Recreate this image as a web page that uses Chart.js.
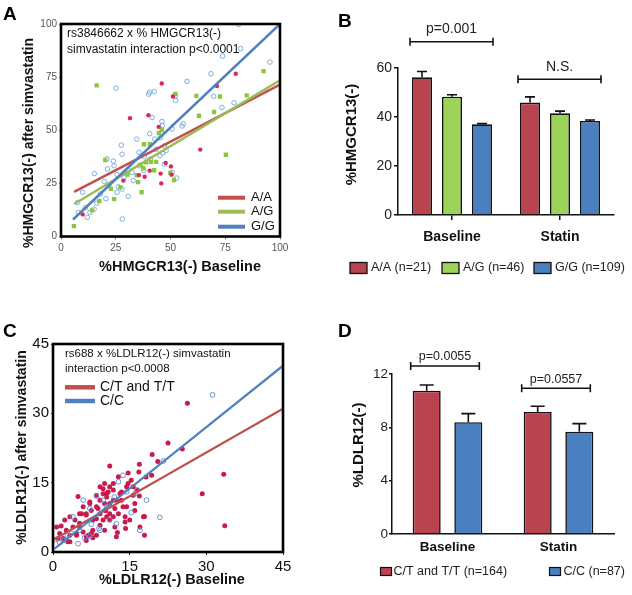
<!DOCTYPE html>
<html>
<head>
<meta charset="utf-8">
<script src="https://cdn.jsdelivr.net/npm/chart.js@4.4.1/dist/chart.umd.min.js"></script>
<style>
html,body{margin:0;padding:0;background:#fff;}
#wrap{position:relative;width:632px;height:595px;overflow:hidden;}
#wrap canvas{position:absolute;left:0;top:0;}
</style>
</head>
<body>
<div id="wrap">
<canvas id="cA" width="632" height="595"></canvas>
<canvas id="cB" width="632" height="595"></canvas>
<canvas id="cC" width="632" height="595"></canvas>
<canvas id="cD" width="632" height="595"></canvas>
</div>
<script>
// ---------------- Panel A: scatter, %HMGCR13(-) ----------------
const hmgGenotypes = ['A/A', 'A/G', 'G/G'];
const hmgAA_x = [79.8,71.2,46,51.1,31.5,39.9,44.6,63.6,47.8,50.2,35.6,38.2,40.5,45.5,28.5,45.8,9.9,50.5];
const hmgAA_y = [76.6,70.8,72,65.9,55.7,57.1,51.6,40.9,34.6,33,28.9,28.1,31,29.6,26.3,25,10.4,29.1];
const hmgAG_x = [16.3,92.5,84.8,61.8,52.2,72.6,69.9,63,75.3,46,44.7,37.9,40.6,20.2,38.8,41,43.4,37.6,42.5,30.4,34.6,49.9,51.6,35.2,22.8,27.1,36.8,24.3,17.5,14.2,5.9,36.4];
const hmgAG_y = [71.1,77.8,66.4,66.2,67.1,65.9,58.6,56.8,38.5,50.1,48.7,43.4,43.4,36,34.9,35.1,35.1,32.1,31.2,29.1,28.8,29.9,26.6,25.6,22.5,23.1,20.8,17.6,16.7,12.3,4.9,33.8];
const hmgGG_x = [81.1,82,73.8,95.4,68.5,57.5,25.1,40.5,42.6,40,52.4,52.2,69.7,73.5,79,55.8,55.3,41.6,40.5,46.1,46.3,50.7,34.6,35.6,42.8,47.2,45.2,27.9,21.2,23.9,15.2,19.8,24.2,25.6,21.8,26.2,27.9,30.7,28,25.6,18,20.5,9.9,7.6,11.1,12,15.1,13.2,7.9,16.3,30.9,32.4,35.8,40.8,46.4,47.2,50.8,52.8,37.8,33,28.8,45.5,48,38,43.5,27.5,21];
const hmgGG_y = [99.8,88.4,84.9,82.1,76.6,73,69.8,67.9,68.2,67,64,66.3,66,60.7,62.9,53.1,52,56,48.4,54.1,52.2,50.6,45.8,39.6,45.9,42.6,38,38.7,31.8,35.5,29.6,25.9,33.3,29.1,24.2,23.4,22.3,18.9,8.2,20.8,20,17.8,20.8,16,13.5,9,12.9,11.3,11.3,15.7,31.3,30.2,33.3,36.5,39.3,34,30.2,27.5,31,26.3,27.8,46.5,40.5,37.5,41,43,36.5];
// regression lines (end points)
const hmgFitAA_x = [6, 100],   hmgFitAA_y = [21, 71.5];
const hmgFitAG_x = [6, 100],   hmgFitAG_y = [15.3, 73.5];
const hmgFitGG_x = [5.5, 100], hmgFitGG_y = [8, 100];
const scatterATicks = [0, 25, 50, 75, 100];

// ---------------- Panel B: bars, %HMGCR13(-) ----------------
const barCategories = ['Baseline', 'Statin'];
const hmgBarLabels = ['A/A (n=21)', 'A/G (n=46)', 'G/G (n=109)'];
const hmgBarAA = [56.2, 45.9], hmgBarAA_err = [2.4, 2.3];
const hmgBarAG = [48.3, 41.5], hmgBarAG_err = [0.8, 0.9];
const hmgBarGG = [37.0, 38.4], hmgBarGG_err = [0.3, 0.4];
const hmgBarTicks = [0, 20, 40, 60];
const hmgPvalues = ['p=0.001', 'N.S.'];

// ---------------- Panel C: scatter, %LDLR12(-) ----------------
const ldlrGenotypes = ['C/T and T/T', 'C/C'];
const ldlrCT_x = [26.3,22.5,25.3,19.4,20.5,29.2,33.4,33.6,17.9,17.9,11.1,4.9,16.9,16.8,18.2,19.3,12.8,14.7,14.7,15.3,15.7,16.4,16.9,16,16,14.1,14.2,12.6,12.4,11.8,9.8,8.5,10.5,7.2,5.9,7.5,6.5,8.8,10.1,12.4,13.4,14.4,15.7,14.4,14.1,15,17.7,17,11.1,12.1,9.2,7.8,5.2,3.9,2.6,1.3,0.7,1.6,3.3,4.6,5.9,6.9,3.3,2,6.5,8.5,7.8,10.1,4.3,5.6,3.3,2.3,9.8,10.5,9.2,11.1,11.8,13.1,13.4,13.7,12.1,10.3,9.2,8.5,6.5,5.2,1,2.9,4.6,6.5,7.5,7.8,9.8,10.5,11.1,11.8,12.8,8.5,7.2,5.2,9.2,10.1,11.1,10.8,11.8];
const ldlrCT_y = [32.2,23.6,22.3,21.1,19.6,12.6,16.8,5.7,7.7,3.6,18.6,12,19,17.3,16.2,16.6,16.3,17.1,14.8,15.5,14.1,13.4,12.1,10.5,9,6.5,5.1,4.2,3.3,14.8,13.7,12.3,12.7,10.8,9.8,9,8,9.4,10.5,11.2,13,14.1,12.3,9.8,7.6,6.9,7.6,5.4,6.9,5.4,5.8,6.9,6.2,5.4,4.7,4,5.4,5.6,3.6,4,4.3,3.6,2.2,2.9,2.5,3.6,4.7,4.7,6.9,8.3,7.6,6.9,12.6,11.9,11.2,10.5,11.2,12.6,11.2,9.8,9.4,8.9,8.3,7.2,8.3,5.4,2.9,2.2,3.6,3.3,4,3.1,6.9,7.6,8.3,7.6,8.3,9.8,10.5,8.3,14.1,14.8,14.1,13,13.4];
const ldlrCC_x = [31.2,20.9,18.3,17,21.6,16,15.3,13.7,12.8,8.5,9.8,7.2,5.9,3.9,3.6,2,1.3,0.5,6.2,9,7.5,11.1,12.4,7.2,5.2,4.9,16.5,14.4,12,10.5,2.9,9.2];
const ldlrCC_y = [34,7.5,11.2,4.7,19.7,12.6,8.5,16.6,15.2,12.1,11.2,9.4,11.2,7.6,4,2.5,2,2.7,3.1,5.1,6,7,6.1,3.4,4.7,1.8,13.4,13,11.9,9.8,3.6,4.7];
const ldlrFitCT_x = [0, 45],   ldlrFitCT_y = [2.6, 31];
const ldlrFitCC_x = [0.3, 45], ldlrFitCC_y = [0.7, 40.3];
const scatterCTicks = [0, 15, 30, 45];

// ---------------- Panel D: bars, %LDLR12(-) ----------------
const ldlrBarLabels = ['C/T and T/T (n=164)', 'C/C (n=87)'];
const ldlrBarCT = [10.75, 9.15], ldlrBarCT_err = [0.42, 0.43];
const ldlrBarCC = [8.38, 7.66],  ldlrBarCC_err = [0.65, 0.62];
const ldlrBarTicks = [0, 4, 8, 12];
const ldlrPvalues = ['p=0.0055', 'p=0.0557'];

// ================= helpers =================
const FF = '"Liberation Sans", Arial, Helvetica, sans-serif';
Chart.defaults.font.family = FF;
Chart.defaults.animation = false;
Chart.defaults.plugins.legend.display = false;
Chart.defaults.plugins.tooltip.enabled = false;

const pts = (xs, ys) => xs.map((x, i) => ({x: x, y: ys[i]}));

function drawText(ctx, s, x, y, o) {
  ctx.save();
  ctx.font = o.font;
  ctx.fillStyle = o.color || '#111';
  ctx.textAlign = o.align || 'left';
  ctx.textBaseline = o.baseline || 'middle';
  ctx.translate(x, y);
  if (o.rot) ctx.rotate(o.rot);
  ctx.fillText(s, 0, 0);
  ctx.restore();
}
function hline(ctx, x1, x2, y, color, w) {
  ctx.save(); ctx.strokeStyle = color; ctx.lineWidth = w; ctx.lineCap = 'butt';
  ctx.beginPath(); ctx.moveTo(x1, y); ctx.lineTo(x2, y); ctx.stroke(); ctx.restore();
}
function frame(ctx, a, w) {
  ctx.save(); ctx.strokeStyle = '#000'; ctx.lineWidth = w;
  ctx.strokeRect(a.left, a.top, a.right - a.left, a.bottom - a.top); ctx.restore();
}
function bracket(ctx, x1, x2, y, label, ty, font) {
  ctx.save(); ctx.strokeStyle = '#111'; ctx.lineWidth = 1.6;
  ctx.beginPath();
  ctx.moveTo(x1, y); ctx.lineTo(x2, y);
  ctx.moveTo(x1, y - 4); ctx.lineTo(x1, y + 4);
  ctx.moveTo(x2, y - 4); ctx.lineTo(x2, y + 4);
  ctx.stroke(); ctx.restore();
  drawText(ctx, label, (x1 + x2) / 2, ty, {font: font, align: 'center', color: '#222'});
}
const errorBars = {
  id: 'errorBars',
  afterDatasetsDraw(chart) {
    const ctx = chart.ctx, ys = chart.scales.y;
    chart.data.datasets.forEach((ds, i) => {
      chart.getDatasetMeta(i).data.forEach((bar, j) => {
        const top = ys.getPixelForValue(ds.data[j] + ds.errors[j]);
        const w = bar.width * 0.5;
        ctx.save(); ctx.strokeStyle = '#111'; ctx.lineWidth = 1.6;
        ctx.beginPath();
        ctx.moveTo(bar.x, bar.y); ctx.lineTo(bar.x, top);
        ctx.moveTo(bar.x - w / 2, top); ctx.lineTo(bar.x + w / 2, top);
        ctx.stroke(); ctx.restore();
      });
    });
  }
};
const tickVals = arr => (scale) => { scale.ticks = arr.map(v => ({value: v})); };

// ================= Panel A =================
const colAApt = '#d8285c', colAGpt = '#8cc63f', colGGpt = '#7aafdf';
const colAAln = '#c0504d', colAGln = '#9bbb59', colGGln = '#4f81bd';
new Chart(document.getElementById('cA'), {
  type: 'scatter',
  data: {datasets: [
    {label: hmgGenotypes[2] + ' fit', data: pts(hmgFitGG_x, hmgFitGG_y), showLine: true, borderColor: colGGln, borderWidth: 2.5, pointRadius: 0},
    {label: hmgGenotypes[1] + ' fit', data: pts(hmgFitAG_x, hmgFitAG_y), showLine: true, borderColor: colAGln, borderWidth: 2.5, pointRadius: 0},
    {label: hmgGenotypes[0] + ' fit', data: pts(hmgFitAA_x, hmgFitAA_y), showLine: true, borderColor: colAAln, borderWidth: 2.5, pointRadius: 0},
    {label: hmgGenotypes[0], data: pts(hmgAA_x, hmgAA_y), pointStyle: 'circle', pointRadius: 2.2, pointBackgroundColor: colAApt, pointBorderWidth: 0},
    {label: hmgGenotypes[1], data: pts(hmgAG_x, hmgAG_y), pointStyle: 'rect', pointRadius: 3.1, pointBackgroundColor: colAGpt, pointBorderWidth: 0},
    {label: hmgGenotypes[2], data: pts(hmgGG_x, hmgGG_y), pointStyle: 'circle', pointRadius: 2.3, pointBackgroundColor: 'rgba(0,0,0,0)', pointBorderColor: colGGpt, pointBorderWidth: 1}
  ]},
  options: {
    responsive: false, devicePixelRatio: 1,
    layout: {padding: {left: 21, right: 352, top: 24, bottom: 328.5}},
    scales: {
      x: {type: 'linear', min: 0, max: 100, afterBuildTicks: tickVals(scatterATicks),
          ticks: {font: {size: 10}, color: '#555', padding: 3, maxRotation: 0, autoSkip: false},
          grid: {drawOnChartArea: false, tickLength: 3, color: '#777'}, border: {display: false},
          afterFit: s => { s.height = 30; }},
      y: {type: 'linear', min: 0, max: 100, afterBuildTicks: tickVals(scatterATicks),
          ticks: {font: {size: 10}, color: '#555', padding: 2, autoSkip: false},
          grid: {drawOnChartArea: false, tickLength: 2, color: '#777'}, border: {display: false},
          afterFit: s => { s.width = 40; }}
    }
  },
  plugins: [{
    id: 'panelA',
    afterDraw(chart) {
      const ctx = chart.ctx, a = chart.chartArea;
      frame(ctx, a, 2.6);
      drawText(ctx, 'A', 3, 20, {font: `bold 19px ${FF}`, baseline: 'alphabetic', color: '#000'});
      drawText(ctx, '%HMGCR13(-) after simvastatin', 29, 143, {font: `bold 14px ${FF}`, align: 'center', rot: -Math.PI / 2, color: '#111'});
      drawText(ctx, '%HMGCR13(-) Baseline', 180, 267, {font: `bold 14.5px ${FF}`, align: 'center', color: '#111'});
      drawText(ctx, 'rs3846662 x % HMGCR13(-)', 67, 33.5, {font: `12px ${FF}`, color: '#111'});
      drawText(ctx, 'simvastatin interaction p<0.0001', 67, 49.5, {font: `12px ${FF}`, color: '#111'});
      const lc = [colAAln, colAGln, colGGln], ly = [197.7, 211.7, 226.7];
      hmgGenotypes.forEach((g, i) => {
        hline(ctx, 218, 245, ly[i], lc[i], 4);
        drawText(ctx, g, 251, ly[i], {font: `13px ${FF}`, color: '#111'});
      });
    }
  }]
});

// ================= Panel B =================
const colRedBar = '#b9434f', colGreenBar = '#9ed35a', colBlueBar = '#4a7fc0';
new Chart(document.getElementById('cB'), {
  type: 'bar',
  data: {labels: barCategories, datasets: [
    {label: hmgBarLabels[0], data: hmgBarAA, errors: hmgBarAA_err, backgroundColor: colRedBar, borderColor: '#111', borderWidth: 1.6},
    {label: hmgBarLabels[1], data: hmgBarAG, errors: hmgBarAG_err, backgroundColor: colGreenBar, borderColor: '#111', borderWidth: 1.6},
    {label: hmgBarLabels[2], data: hmgBarGG, errors: hmgBarGG_err, backgroundColor: colBlueBar, borderColor: '#111', borderWidth: 1.6}
  ]},
  options: {
    responsive: false, devicePixelRatio: 1,
    datasets: {bar: {categoryPercentage: 0.833, barPercentage: 0.667}},
    layout: {padding: {left: 338, right: 18, top: 68, bottom: 340}},
    scales: {
      x: {grid: {offset: false, drawOnChartArea: false, tickLength: 5, color: '#111', lineWidth: 1.5},
          border: {color: '#111', width: 1.5},
          ticks: {font: {size: 14, weight: 'bold'}, color: '#111', padding: 8.5},
          afterFit: s => { s.height = 40; }},
      y: {min: 0, max: 60, afterBuildTicks: tickVals(hmgBarTicks),
          ticks: {font: {size: 14}, color: '#222', padding: 2},
          grid: {drawOnChartArea: false, tickLength: 4, color: '#111', lineWidth: 1.5},
          border: {color: '#111', width: 1.5},
          afterFit: s => { s.width = 60; }}
    }
  },
  plugins: [errorBars, {
    id: 'panelB',
    afterDraw(chart) {
      const ctx = chart.ctx, ys = chart.scales.y;
      drawText(ctx, 'B', 338, 27, {font: `bold 19px ${FF}`, baseline: 'alphabetic', color: '#000'});
      drawText(ctx, '%HMGCR13(-)', 352, 134.5, {font: `bold 15px ${FF}`, align: 'center', rot: -Math.PI / 2, color: '#111'});
      const m0 = chart.getDatasetMeta(0).data, m2 = chart.getDatasetMeta(2).data;
      const bY = [70.7, 55.4], tY = [29, 67.5];
      [0, 1].forEach(j => {
        const x1 = m0[j].x - m0[j].width / 2 - 2, x2 = m2[j].x + m2[j].width / 2 + 1;
        const y = ys.getPixelForValue(bY[j]);
        bracket(ctx, x1, x2, y, hmgPvalues[j], tY[j], `14px ${FF}`);
      });
      const cols = [colRedBar, colGreenBar, colBlueBar], bx = [350, 442, 534], tx = [371, 463, 555];
      hmgBarLabels.forEach((l, i) => {
        ctx.save(); ctx.fillStyle = cols[i]; ctx.strokeStyle = '#111'; ctx.lineWidth = 1.3;
        ctx.fillRect(bx[i], 262.5, 17, 11); ctx.strokeRect(bx[i], 262.5, 17, 11); ctx.restore();
        drawText(ctx, l, tx[i], 268, {font: `12.5px ${FF}`, color: '#222'});
      });
    }
  }]
});

// ================= Panel C =================
const colCTpt = '#c81b4d', colCCpt = '#6a8fd8', colCTln = '#c0504d', colCCln = '#4f81bd';
new Chart(document.getElementById('cC'), {
  type: 'scatter',
  data: {datasets: [
    {label: ldlrGenotypes[1] + ' fit', data: pts(ldlrFitCC_x, ldlrFitCC_y), showLine: true, borderColor: colCCln, borderWidth: 2.2, pointRadius: 0},
    {label: ldlrGenotypes[0] + ' fit', data: pts(ldlrFitCT_x, ldlrFitCT_y), showLine: true, borderColor: colCTln, borderWidth: 2.2, pointRadius: 0},
    {label: ldlrGenotypes[1], data: pts(ldlrCC_x, ldlrCC_y), pointStyle: 'circle', pointRadius: 2.4, pointBackgroundColor: 'rgba(0,0,0,0)', pointBorderColor: colCCpt, pointBorderWidth: 1},
    {label: ldlrGenotypes[0], data: pts(ldlrCT_x, ldlrCT_y), pointStyle: 'circle', pointRadius: 2.5, pointBackgroundColor: colCTpt, pointBorderWidth: 0}
  ]},
  options: {
    responsive: false, devicePixelRatio: 1,
    layout: {padding: {left: 13, right: 349, top: 344, bottom: 18}},
    scales: {
      x: {type: 'linear', min: 0, max: 45, afterBuildTicks: tickVals(scatterCTicks),
          ticks: {font: {size: 15}, color: '#111', padding: 3, maxRotation: 0, autoSkip: false},
          grid: {drawOnChartArea: false, tickLength: 3, color: '#333'}, border: {display: false},
          afterFit: s => { s.height = 25; }},
      y: {type: 'linear', min: 0, max: 45, afterBuildTicks: tickVals(scatterCTicks),
          ticks: {font: {size: 15}, color: '#111', padding: 2, autoSkip: false},
          grid: {drawOnChartArea: false, tickLength: 2, color: '#333'}, border: {display: false},
          afterFit: s => { s.width = 40; }}
    }
  },
  plugins: [{
    id: 'panelC',
    afterDraw(chart) {
      const ctx = chart.ctx, a = chart.chartArea;
      frame(ctx, a, 2.6);
      drawText(ctx, 'C', 3, 337, {font: `bold 19px ${FF}`, baseline: 'alphabetic', color: '#000'});
      drawText(ctx, '%LDLR12(-) after simvastatin', 22.5, 447.5, {font: `bold 14px ${FF}`, align: 'center', rot: -Math.PI / 2, color: '#111'});
      drawText(ctx, '%LDLR12(-) Baseline', 172, 580, {font: `bold 14.5px ${FF}`, align: 'center', color: '#111'});
      drawText(ctx, 'rs688 x %LDLR12(-) simvastatin', 65, 354, {font: `11.5px ${FF}`, color: '#111'});
      drawText(ctx, 'interaction p<0.0008', 65, 369, {font: `11.5px ${FF}`, color: '#111'});
      const lc = [colCTln, colCCln], ly = [387.3, 401];
      ldlrGenotypes.forEach((g, i) => {
        hline(ctx, 65, 95, ly[i], lc[i], 4.5);
        drawText(ctx, g, 100, ly[i], {font: `14px ${FF}`, color: '#111'});
      });
    }
  }]
});

// ================= Panel D =================
new Chart(document.getElementById('cD'), {
  type: 'bar',
  data: {labels: barCategories, datasets: [
    {label: ldlrBarLabels[0], data: ldlrBarCT, errors: ldlrBarCT_err, backgroundColor: colRedBar, borderColor: '#111', borderWidth: 1.6},
    {label: ldlrBarLabels[1], data: ldlrBarCC, errors: ldlrBarCC_err, backgroundColor: colBlueBar, borderColor: '#111', borderWidth: 1.6}
  ]},
  options: {
    responsive: false, devicePixelRatio: 1,
    datasets: {bar: {categoryPercentage: 0.75, barPercentage: 0.673}},
    layout: {padding: {left: 342, right: 18, top: 374, bottom: 31}},
    scales: {
      x: {grid: {offset: false, drawOnChartArea: false, drawTicks: false, color: '#111'},
          border: {color: '#111', width: 1.5},
          ticks: {font: {size: 13.5, weight: 'bold'}, color: '#111', padding: 5},
          afterFit: s => { s.height = 30; }},
      y: {min: 0, max: 12, afterBuildTicks: tickVals(ldlrBarTicks),
          ticks: {font: {size: 13.5}, color: '#222', padding: 1},
          grid: {drawOnChartArea: false, tickLength: 3, color: '#111', lineWidth: 1.5},
          border: {color: '#111', width: 1.5},
          afterFit: s => { s.width = 50; }}
    }
  },
  plugins: [errorBars, {
    id: 'panelD',
    afterDraw(chart) {
      const ctx = chart.ctx, ys = chart.scales.y;
      drawText(ctx, 'D', 338, 337, {font: `bold 19px ${FF}`, baseline: 'alphabetic', color: '#000'});
      drawText(ctx, '%LDLR12(-)', 358.7, 445, {font: `bold 15px ${FF}`, align: 'center', rot: -Math.PI / 2, color: '#111'});
      const m0 = chart.getDatasetMeta(0).data, m1 = chart.getDatasetMeta(1).data;
      const bY = [12.6, 10.93], tY = [356.7, 379.5];
      [0, 1].forEach(j => {
        const x1 = m0[j].x - m0[j].width / 2 - 2, x2 = m1[j].x + m1[j].width / 2 - 3;
        const y = ys.getPixelForValue(bY[j]);
        bracket(ctx, x1, x2, y, ldlrPvalues[j], tY[j], `12.5px ${FF}`);
      });
      const cols = [colRedBar, colBlueBar], bx = [380.5, 549.5], tx = [393.5, 563.5];
      ldlrBarLabels.forEach((l, i) => {
        ctx.save(); ctx.fillStyle = cols[i]; ctx.strokeStyle = '#111'; ctx.lineWidth = 1.2;
        ctx.fillRect(bx[i], 567.5, 11, 8); ctx.strokeRect(bx[i], 567.5, 11, 8); ctx.restore();
        drawText(ctx, l, tx[i], 571.7, {font: `12.5px ${FF}`, color: '#222'});
      });
    }
  }]
});
</script>
</body>
</html>
